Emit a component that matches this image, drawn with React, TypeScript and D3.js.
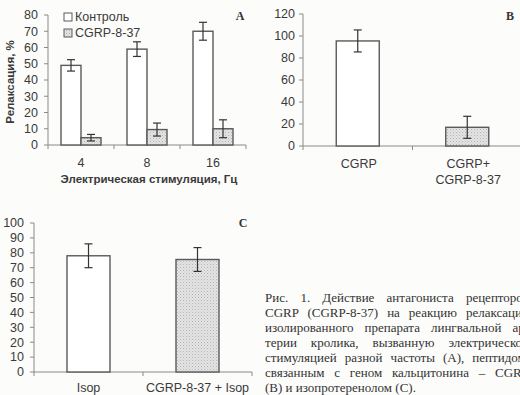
import React, { useLayoutEffect, useRef } from "react";
import * as d3 from "d3";

// Panel A
const freqCategories = ["4", "8", "16"];
const controlValues = [49, 59, 70];
const controlErrors = [3.5, 4.5, 5.5];
const antagonistValues = [4.5, 9.5, 10];
const antagonistErrors = [2, 4, 5.5];
const aTicks = [0, 10, 20, 30, 40, 50, 60, 70, 80];
const legendLabels = ["Контроль", "CGRP-8-37"];

// Panel B
const bCategories = ["CGRP", "CGRP+|CGRP-8-37"];
const bValues = [95.5, 17];
const bErrors = [10, 10];
const bTicks = [0, 20, 40, 60, 80, 100, 120];

// Panel C
const cCategories = ["Isop", "CGRP-8-37 + Isop"];
const cValues = [78, 75.5];
const cErrors = [8, 8];
const cTicks = [0, 10, 20, 30, 40, 50, 60, 70, 80, 90, 100];

const captionLines = [
  "Рис. 1. Действие антагониста рецепторов",
  "CGRP (CGRP-8-37) на реакцию релаксации",
  "изолированного препарата лингвальной ар-",
  "терии кролика, вызванную электрической",
  "стимуляцией разной частоты (A), пептидом,",
  "связанным с геном кальцитонина – CGRP",
  "(B) и изопротеренолом (C).",
];

const SANS = "'Liberation Sans', Arial, sans-serif";
const SERIF = "'Liberation Serif', 'Times New Roman', serif";
const TEXT = "#3a3a3a";
const AXIS = "#8a8a8a";
const BAR = "#5a5a5a";

function YAxis({ y, ticks, x, labelX }: any) {
  const [y0, y1] = y.range();
  return (
    <g>
      <line x1={x} x2={x} y1={y0} y2={y1} stroke={AXIS} strokeWidth={1} />
      {ticks.map((t: number) => (
        <g key={t}>
          <line x1={x - 4} x2={x} y1={y(t)} y2={y(t)} stroke={AXIS} />
          <text x={labelX} y={y(t)} dy="0.35em" textAnchor="end" fontSize={12.5} fill={TEXT} fontFamily={SANS}>
            {t}
          </text>
        </g>
      ))}
    </g>
  );
}

function XAxis({ x, y0 }: any) {
  const [a, b] = x.range();
  const bounds = [a, ...x.domain().map((d: string) => x(d) + x.step())];
  return (
    <g>
      <line x1={a} x2={b} y1={y0} y2={y0} stroke={AXIS} />
      {bounds.map((bx: number, i: number) => (
        <line key={i} x1={bx} x2={bx} y1={y0} y2={y0 + 4} stroke={AXIS} />
      ))}
    </g>
  );
}

function Bar({ cx, w, v, e, y, fill }: any) {
  const top = y(v);
  const base = y(0);
  return (
    <g>
      <rect x={cx - w / 2} y={top} width={w} height={base - top} fill={fill} stroke={BAR} strokeWidth={1.4} />
      <line x1={cx} x2={cx} y1={y(v + e)} y2={y(v - e)} stroke="#333" strokeWidth={1.2} />
      <line x1={cx - 4} x2={cx + 4} y1={y(v + e)} y2={y(v + e)} stroke="#333" strokeWidth={1.2} />
      <line x1={cx - 4} x2={cx + 4} y1={y(v - e)} y2={y(v - e)} stroke="#333" strokeWidth={1.2} />
    </g>
  );
}

function Caption() {
  const refs = useRef<(SVGTextElement | null)[]>([]);
  const startX = 265;
  const target = 264;
  useLayoutEffect(() => {
    refs.current.forEach((el, i) => {
      if (!el || i === captionLines.length - 1) return;
      const natural = el.getComputedTextLength();
      const spaces = (captionLines[i].match(/ /g) || []).length;
      if (spaces > 0) el.setAttribute("word-spacing", String((target - natural) / spaces));
    });
  }, []);
  return (
    <g>
      {captionLines.map((l, i) => (
        <text
          key={i}
          ref={(el) => (refs.current[i] = el)}
          x={startX}
          y={302 + i * 15}
          fontSize={13}
          fontFamily={SERIF}
          fill="#333"
        >
          {l}
        </text>
      ))}
    </g>
  );
}

export default function App() {
  // Panel A scales
  const yA = d3.scaleLinear().domain([0, 80]).range([145, 15]);
  const xA = d3.scaleBand().domain(freqCategories).range([48, 246]).padding(0);
  const barWA = 20;

  // Panel B scales
  const yB = d3.scaleLinear().domain([0, 120]).range([146, 14]);
  const xB = d3.scaleBand().domain(bCategories).range([303, 522]).padding(0);
  const barWB = 43;

  // Panel C scales
  const yC = d3.scaleLinear().domain([0, 100]).range([372, 223]);
  const xC = d3.scaleBand().domain(cCategories).range([34, 252]).padding(0);
  const barWC = 43;

  const fills = ["#ffffff", "url(#dots)"];

  return (
    <div style={{ position: "fixed", left: 0, top: 0 }}>
      <svg width={520} height={395} style={{ display: "block", background: "#fcfcfb" }}>
        <defs>
          <pattern id="dots" width={3} height={3} patternUnits="userSpaceOnUse">
            <rect width={3} height={3} fill="#e4e4e4" />
            <rect x={0} y={0} width={1} height={1} fill="#b4b4b4" />
            <rect x={1.5} y={1.5} width={1} height={1} fill="#c4c4c4" />
          </pattern>
        </defs>

        {/* Panel A */}
        <g>
          <YAxis y={yA} ticks={aTicks} x={48} labelX={38} />
          <XAxis x={xA} y0={145} />
          {freqCategories.map((c, i) => {
            const center = (xA(c) as number) + xA.bandwidth() / 2;
            return (
              <g key={c}>
                <Bar cx={center - barWA / 2} w={barWA} v={controlValues[i]} e={controlErrors[i]} y={yA} fill={fills[0]} />
                <Bar cx={center + barWA / 2} w={barWA} v={antagonistValues[i]} e={antagonistErrors[i]} y={yA} fill={fills[1]} />
                <text x={center} y={163} dy="0.35em" textAnchor="middle" fontSize={12.5} fill={TEXT} fontFamily={SANS}>
                  {c}
                </text>
              </g>
            );
          })}
          <text x={149} y={179} dy="0.35em" textAnchor="middle" fontSize={11.5} fontWeight="bold" fill={TEXT} fontFamily={SANS}>
            Электрическая стимуляция, Гц
          </text>
          <text
            transform="translate(10,82) rotate(-90)"
            textAnchor="middle"
            dy="0.35em"
            fontSize={11.5}
            fontWeight="bold"
            fill={TEXT}
            fontFamily={SANS}
          >
            Релаксация, %
          </text>
          {legendLabels.map((l, i) => (
            <g key={l}>
              <rect x={64} y={13 + i * 16} width={8} height={8} fill={fills[i]} stroke={BAR} strokeWidth={1} />
              <text x={75} y={17 + i * 16} dy="0.35em" fontSize={12.5} fill={TEXT} fontFamily={SANS}>
                {l}
              </text>
            </g>
          ))}
          <text x={240} y={16} dy="0.35em" textAnchor="middle" fontSize={12} fontWeight="bold" fill="#333" fontFamily={SERIF}>
            A
          </text>
        </g>

        {/* Panel B */}
        <g>
          <YAxis y={yB} ticks={bTicks} x={303} labelX={295} />
          <XAxis x={xB} y0={146} />
          {bCategories.map((c, i) => {
            const center = (xB(c) as number) + xB.bandwidth() / 2;
            const parts = c.split("|");
            return (
              <g key={c}>
                <Bar cx={center} w={barWB} v={bValues[i]} e={bErrors[i]} y={yB} fill={fills[i]} />
                {parts.map((p, j) => (
                  <text key={j} x={center + 1} y={164 + j * 15.5} dy="0.35em" textAnchor="middle" fontSize={12.5} fill={TEXT} fontFamily={SANS}>
                    {p}
                  </text>
                ))}
              </g>
            );
          })}
          <text x={510} y={16} dy="0.35em" textAnchor="middle" fontSize={12} fontWeight="bold" fill="#333" fontFamily={SERIF}>
            B
          </text>
        </g>

        {/* Panel C */}
        <g>
          <YAxis y={yC} ticks={cTicks} x={34} labelX={24} />
          <XAxis x={xC} y0={372} />
          {cCategories.map((c, i) => {
            const center = (xC(c) as number) + xC.bandwidth() / 2;
            return (
              <g key={c}>
                <Bar cx={center} w={barWC} v={cValues[i]} e={cErrors[i]} y={yC} fill={fills[i]} />
                <text x={center} y={388} dy="0.35em" textAnchor="middle" fontSize={12.5} fill={TEXT} fontFamily={SANS}>
                  {c}
                </text>
              </g>
            );
          })}
          <text x={243} y={223} dy="0.35em" textAnchor="middle" fontSize={12} fontWeight="bold" fill="#333" fontFamily={SERIF}>
            C
          </text>
        </g>

        <Caption />
      </svg>
    </div>
  );
}
